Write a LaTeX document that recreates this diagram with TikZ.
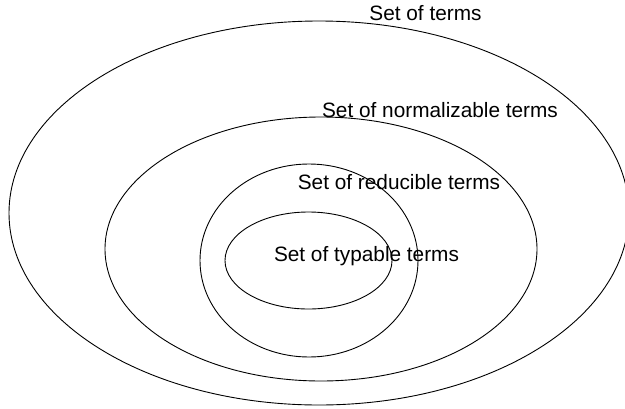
\documentclass[tikz,border=0pt]{standalone}
\usepackage{fontspec}
\setmainfont{Liberation Sans}
\begin{document}
\begin{tikzpicture}[x=1pt,y=-1pt,
  lbl/.style={font=\fontsize{20.8}{23}\selectfont, inner sep=0pt, anchor=base},
  ring/.style={draw=black, line width=0.9pt}]
\useasboundingbox (0,0) rectangle (625,408);
\fill[white] (0,0) rectangle (625,408);
\draw[ring] (319,213) ellipse [x radius=310, y radius=192];
\draw[ring] (321,249) ellipse [x radius=216, y radius=132];
\draw[ring] (309,260.5) ellipse [x radius=109, y radius=96.5];
\draw[ring] (308.5,260.5) ellipse [x radius=83.5, y radius=48.5];
\node[lbl] (terms) at (425.5,20.7) {Set of terms};
\node[lbl] (norm) at (440,117.3) {Set of normalizable terms};
\node[lbl] (red) at (399,189.3) {Set of reducible terms};
\node[lbl] (typ) at (366.5,261.7) {Set of typable terms};
\end{tikzpicture}
\end{document}
